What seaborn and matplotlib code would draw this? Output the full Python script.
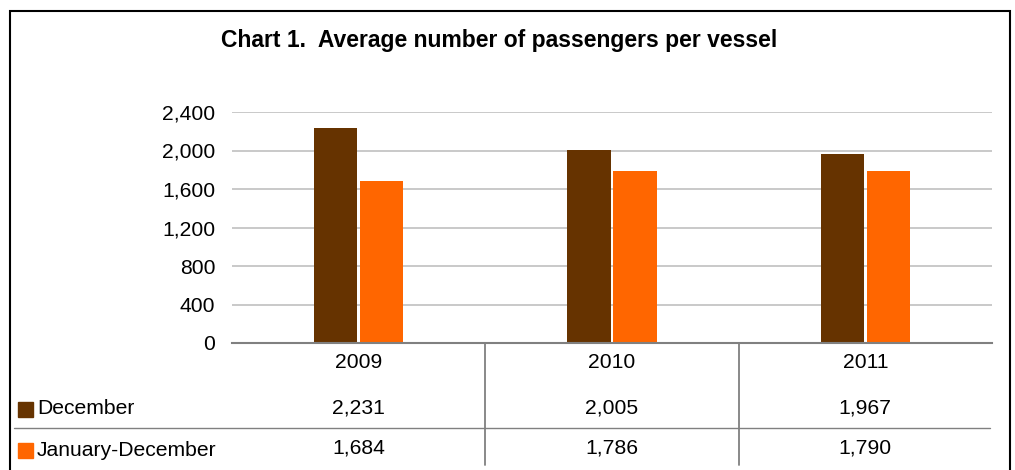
import matplotlib
matplotlib.use("Agg")
import matplotlib.pyplot as plt
import matplotlib.transforms as mtransforms
from matplotlib.patches import Rectangle
import pandas as pd
import seaborn as sns

years = ["2009", "2010", "2011"]
december = [2231, 2005, 1967]
jan_dec = [1684, 1786, 1790]
series_names = ["December", "January-December"]
colors = ["#663300", "#FF6600"]
y_ticks = [0, 400, 800, 1200, 1600, 2000, 2400]
title = "Chart 1.  Average number of passengers per vessel"

W, H = 1015, 470
FS = 15.2


def fx(x):
    return x / W


def fy(y):
    return 1 - y / H


df = pd.DataFrame({
    "year": years * 2,
    "series": [series_names[0]] * len(years) + [series_names[1]] * len(years),
    "value": december + jan_dec,
})

sns.set_style("white")
plt.rcParams["font.family"] = ["Liberation Sans", "DejaVu Sans"]
plt.rcParams["text.color"] = "black"
plt.rcParams["xtick.color"] = "black"
plt.rcParams["ytick.color"] = "black"

fig = plt.figure(figsize=(W / 100, H / 100), dpi=100)
ax = fig.add_axes([fx(232), fy(343), (992 - 232) / W, (343 - 112) / H])

sns.barplot(data=df, x="year", y="value", hue="series", palette=colors,
            width=0.364, gap=0.065, saturation=1, linewidth=0,
            legend=False, ax=ax)

ax.set_xlim(-0.5, len(years) - 0.5)
ax.set_ylim(0, 2400)
ax.set_yticks(y_ticks)
ax.set_yticklabels([f"{v:,}" for v in y_ticks], fontsize=FS)
ax.set_xlabel("")
ax.set_ylabel("")
ax.yaxis.grid(True, color="#c0c0c0", lw=1.2)
ax.set_axisbelow(True)
for side in ["top", "right", "left"]:
    ax.spines[side].set_visible(False)
ax.spines["bottom"].set_color("#808080")
ax.spines["bottom"].set_linewidth(1.5)
ax.tick_params(axis="y", length=0, pad=12)
ax.tick_params(axis="x", length=0, pad=7, labelsize=FS)

# data table under the chart
blend = mtransforms.blended_transform_factory(ax.transData, fig.transFigure)
for b in [0.5, 1.5]:
    ax.plot([b, b], [fy(343), fy(465)], transform=blend, color="#808080",
            lw=1.3, clip_on=False)
fig.add_artist(plt.Line2D([fx(14), fx(990)], [fy(428), fy(428)],
                          color="#808080", lw=1.0))

rows = [(december, 408, 409), (jan_dec, 448, 450)]
for (vals, ty, ly), name, col in zip(rows, series_names, colors):
    for i, v in enumerate(vals):
        ax.text(i, fy(ty), f"{v:,}", transform=blend, ha="center",
                va="center", fontsize=FS)
    fig.add_artist(Rectangle((fx(18), fy(ly + 8)), 15 / W, 15 / H,
                             transform=fig.transFigure, color=col))
    fig.text(fx(37), fy(ly), name, ha="left", va="center", fontsize=FS)

fig.text(fx(499), fy(41), title, ha="center", va="center",
         fontsize=16.5, fontweight="bold")

fig.add_artist(Rectangle((fx(10), fy(476)), 1000 / W, 465 / H,
                         transform=fig.transFigure, fill=False,
                         ec="black", lw=1.5))

fig.savefig("out.png", dpi=100)
